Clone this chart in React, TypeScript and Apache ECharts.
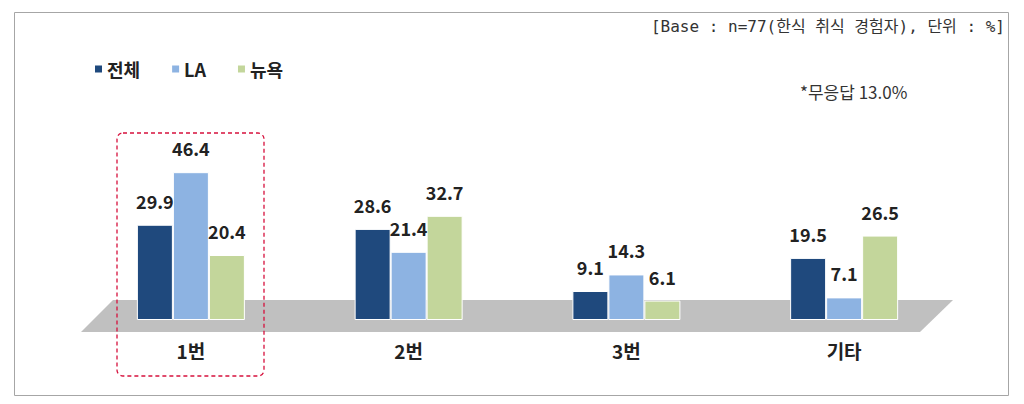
import React, { useEffect, useRef } from "react";
import * as echarts from "echarts";

const categories = ["1번", "2번", "3번", "기타"];
const seriesNames = ["전체", "LA", "뉴욕"];
const totalValues = [29.9, 28.6, 9.1, 19.5];
const laValues = [46.4, 21.4, 14.3, 7.1];
const nyValues = [20.4, 32.7, 6.1, 26.5];
const colors = ["#1F497D", "#8DB3E2", "#C3D69B"];
const headerText = "[Base : n=77(한식 취식 경험자), 단위 : %]";
const noteText = "*무응답 13.0%";

const FONT = "'Noto Sans CJK KR', 'Noto Sans', sans-serif";

export default function App() {
  const ref = useRef<HTMLDivElement>(null);
  useEffect(() => {
    document.body.style.margin = "0";
    if (!ref.current) return;
    const chart = echarts.init(ref.current, undefined, { renderer: "svg" });
    const values = [totalValues, laValues, nyValues];
    chart.setOption({
      animation: false,
      textStyle: { fontFamily: FONT },
      grid: { left: 82, right: 71, top: 97, bottom: 84 },
      legend: {
        left: 88,
        top: 55,
        icon: "rect",
        itemWidth: 9,
        itemHeight: 9,
        itemGap: 30,
        data: seriesNames,
        textStyle: { fontSize: 18, fontWeight: "bold", color: "#222", fontFamily: FONT, padding: [0, 0, 0, -1] },
      },
      xAxis: {
        type: "category",
        data: categories,
        axisLine: { show: false },
        axisTick: { show: false },
        axisLabel: { margin: 21, fontSize: 19, fontWeight: "bold", color: "#222", fontFamily: FONT },
      },
      yAxis: {
        type: "value",
        min: 0,
        max: 70,
        show: false,
        splitLine: { show: false },
      },
      graphic: [
        {
          type: "rect",
          shape: { x: 14.5, y: 12.5, width: 994, height: 383 },
          style: { fill: "none", stroke: "#A6A6A6", lineWidth: 1 },
          z: 0,
        },
        {
          type: "polygon",
          shape: { points: [[113, 300], [953, 300], [920, 332], [81, 332]] },
          style: { fill: "#C0C0C0" },
          z: 0,
        },
        {
          type: "rect",
          shape: { x: 117, y: 133, width: 147, height: 243, r: 6 },
          style: { fill: "none", stroke: "#D6103C", lineWidth: 1.3, lineDash: [4, 3] },
          z: 10,
        },
        {
          type: "text",
          right: 19,
          top: 18,
          style: { text: headerText, fontSize: 16, fill: "#333", fontFamily: "'DejaVu Sans Mono', 'Noto Sans CJK KR', monospace" },
          z: 10,
        },
        {
          type: "text",
          left: 800,
          top: 83,
          style: { text: noteText, fontSize: 17, fill: "#333", fontFamily: FONT },
          z: 10,
        },
      ],
      series: seriesNames.map((name, i) => ({
        name,
        type: "bar",
        data: values[i],
        barWidth: 36,
        barGap: "0%",
        z: 5,
        itemStyle: { color: colors[i], borderColor: "#fff", borderWidth: 1 },
        label: {
          show: true,
          position: "top",
          distance: 15,
          fontSize: 18,
          fontWeight: "bold",
          color: "#222",
          fontFamily: FONT,
          formatter: (p: any) => Number(p.value).toFixed(1),
        },
      })),
    });
    return () => chart.dispose();
  }, []);
  return <div ref={ref} style={{ width: 1024, height: 404 }} />;
}
